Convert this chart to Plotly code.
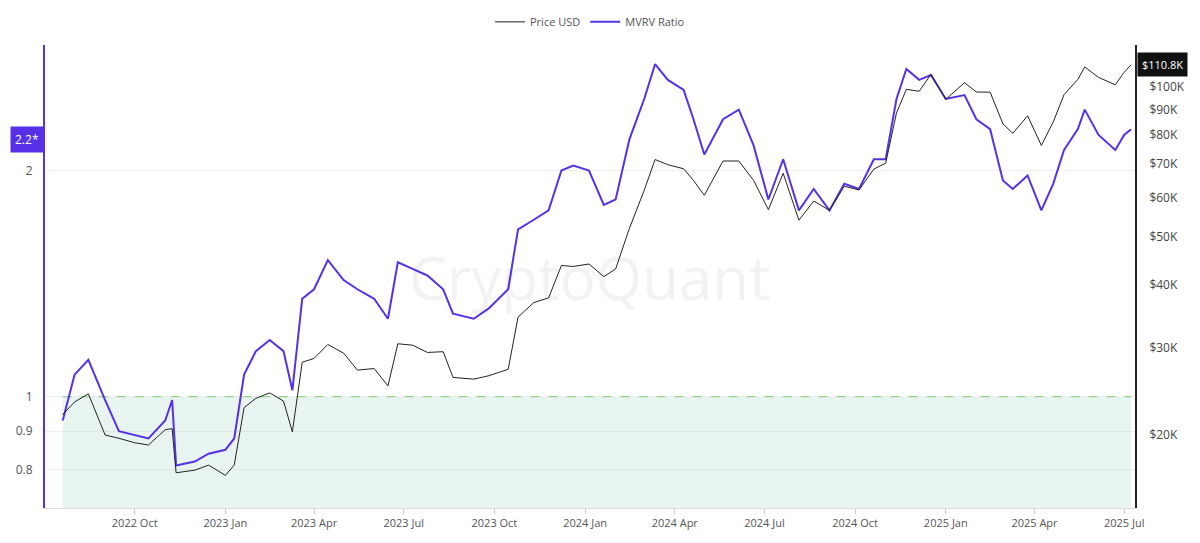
import math
import plotly.graph_objects as go

mvrv_dates = ["2022-07-20", "2022-08-01", "2022-08-15", "2022-09-01", "2022-09-15", "2022-10-01",
              "2022-10-15", "2022-11-01", "2022-11-08", "2022-11-12", "2022-12-01", "2022-12-15",
              "2023-01-01", "2023-01-10", "2023-01-20", "2023-02-01", "2023-02-15", "2023-03-01",
              "2023-03-10", "2023-03-20", "2023-04-01", "2023-04-15", "2023-05-01", "2023-05-15",
              "2023-06-01", "2023-06-15", "2023-06-25", "2023-07-10", "2023-07-25", "2023-08-10",
              "2023-08-20", "2023-09-10", "2023-09-25", "2023-10-15", "2023-10-25", "2023-11-10",
              "2023-11-25", "2023-12-08", "2023-12-20", "2024-01-05", "2024-01-20", "2024-02-01",
              "2024-02-15", "2024-03-01", "2024-03-12", "2024-03-25", "2024-04-10", "2024-04-20",
              "2024-05-01", "2024-05-20", "2024-06-05", "2024-06-20", "2024-07-05", "2024-07-20",
              "2024-08-05", "2024-08-20", "2024-09-05", "2024-09-20", "2024-10-05", "2024-10-20",
              "2024-11-01", "2024-11-12", "2024-11-22", "2024-12-05", "2024-12-17", "2025-01-01",
              "2025-01-20", "2025-02-01", "2025-02-15", "2025-02-28", "2025-03-10", "2025-03-25",
              "2025-04-08", "2025-04-20", "2025-05-01", "2025-05-15", "2025-05-22", "2025-06-05",
              "2025-06-22", "2025-07-01", "2025-07-08"]
mvrv = [0.93, 1.07, 1.12, 0.99, 0.90, 0.89, 0.88, 0.93, 0.99, 0.81, 0.82, 0.84,
        0.85, 0.88, 1.07, 1.15, 1.19, 1.15, 1.02, 1.35, 1.39, 1.52, 1.43, 1.39,
        1.35, 1.27, 1.51, 1.48, 1.45, 1.39, 1.29, 1.27, 1.31, 1.39, 1.67, 1.72,
        1.77, 2.00, 2.03, 2.00, 1.80, 1.83, 2.20, 2.49, 2.77, 2.64, 2.56, 2.34,
        2.10, 2.34, 2.41, 2.16, 1.83, 2.07, 1.77, 1.89, 1.77, 1.92, 1.89, 2.07,
        2.07, 2.49, 2.73, 2.64, 2.68, 2.49, 2.52, 2.34, 2.27, 1.94, 1.89, 1.97,
        1.77, 1.92, 2.13, 2.27, 2.41, 2.23, 2.13, 2.23, 2.27]
price = [22000, 23300, 24200, 20000, 19700, 19300, 19100, 20500, 20600, 16800, 17000, 17400,
         16600, 17400, 22700, 23700, 24300, 23400, 20300, 28000, 28500, 30400, 29200, 27000,
         27200, 25100, 30500, 30300, 29300, 29400, 26100, 25900, 26300, 27100, 34500, 36900,
         37700, 43800, 43600, 44100, 41600, 43100, 52000, 62000, 71500, 69800, 68500, 64900,
         60600, 71000, 71000, 64900, 56700, 67100, 54000, 59000, 56500, 63200, 62100, 68400,
         70300, 88700, 98900, 98000, 106000, 94400, 102000, 97700, 97600, 84300, 80700, 87500,
         76300, 85000, 96500, 103500, 109700, 104500, 101000, 107000, 110800]
price_ticks = [20000, 30000, 40000, 50000, 60000, 70000, 80000, 90000, 100000]
mvrv_ticks = [0.8, 0.9, 1, 2]

purple = "#5631e8"

fig = go.Figure()
fig.add_trace(go.Scatter(x=mvrv_dates, y=[1] * len(mvrv_dates), mode="lines",
                         line=dict(color="#7ccf6e", width=1, dash="dash"), fill="tozeroy",
                         fillcolor="rgba(150,205,180,0.22)", showlegend=False, hoverinfo="skip"))
fig.add_trace(go.Scatter(x=mvrv_dates, y=price, name="Price USD", yaxis="y2",
                         line=dict(color="#222222", width=1)))
fig.add_trace(go.Scatter(x=mvrv_dates, y=mvrv, name="MVRV Ratio",
                         line=dict(color=purple, width=2)))

fig.update_layout(
    width=1200, height=543, plot_bgcolor="white", paper_bgcolor="white",
    margin=dict(l=37, r=73, t=37, b=43, autoexpand=False),
    font=dict(family="Open Sans", size=11, color="#555"),
    legend=dict(orientation="h", x=0.5, xanchor="center", y=1.05, yanchor="middle"),
    xaxis=dict(range=["2022-07-02", "2025-07-12"], tickformat="%Y %b", dtick="M3",
               tick0="2022-10-01", showgrid=False, ticks="outside", tickcolor="#ccc",
               showline=True, linecolor="#ddd"),
    yaxis=dict(type="log", range=[-0.148, 0.468], tickvals=mvrv_ticks,
               ticktext=[str(v) for v in mvrv_ticks], gridcolor="#f0f0f0",
               ticklabelstandoff=8, tickfont=dict(size=12),
               showline=True, linecolor=purple, linewidth=2, zeroline=False),
    yaxis2=dict(type="log", overlaying="y", side="right", range=[4.1545, 5.0842],
                tickvals=price_ticks,
                ticktext=["&#36;%dK" % (v // 1000) for v in price_ticks],
                tickfont=dict(size=12, color="#444"), ticklabelstandoff=10,
                showgrid=False, showline=True, linecolor="#222", linewidth=2),
)
fig.add_annotation(x=0, xref="paper", xanchor="right", y=math.log10(2.2), yref="y",
                   text="2.2*", showarrow=False, bgcolor=purple,
                   font=dict(color="white", size=12), xshift=-1, borderpad=4)
fig.add_annotation(x=1, xref="paper", xanchor="left", y=math.log10(price[-1]), yref="y2",
                   text="&#36;110.8K", showarrow=False, bgcolor="#111",
                   font=dict(color="white", size=11), xshift=2, borderpad=4)
fig.add_annotation(x=0.5, y=0.5, xref="paper", yref="paper", text="CryptoQuant",
                   showarrow=False, font=dict(size=60, color="rgba(0,0,0,0.05)"))
fig.write_html("out.html")
